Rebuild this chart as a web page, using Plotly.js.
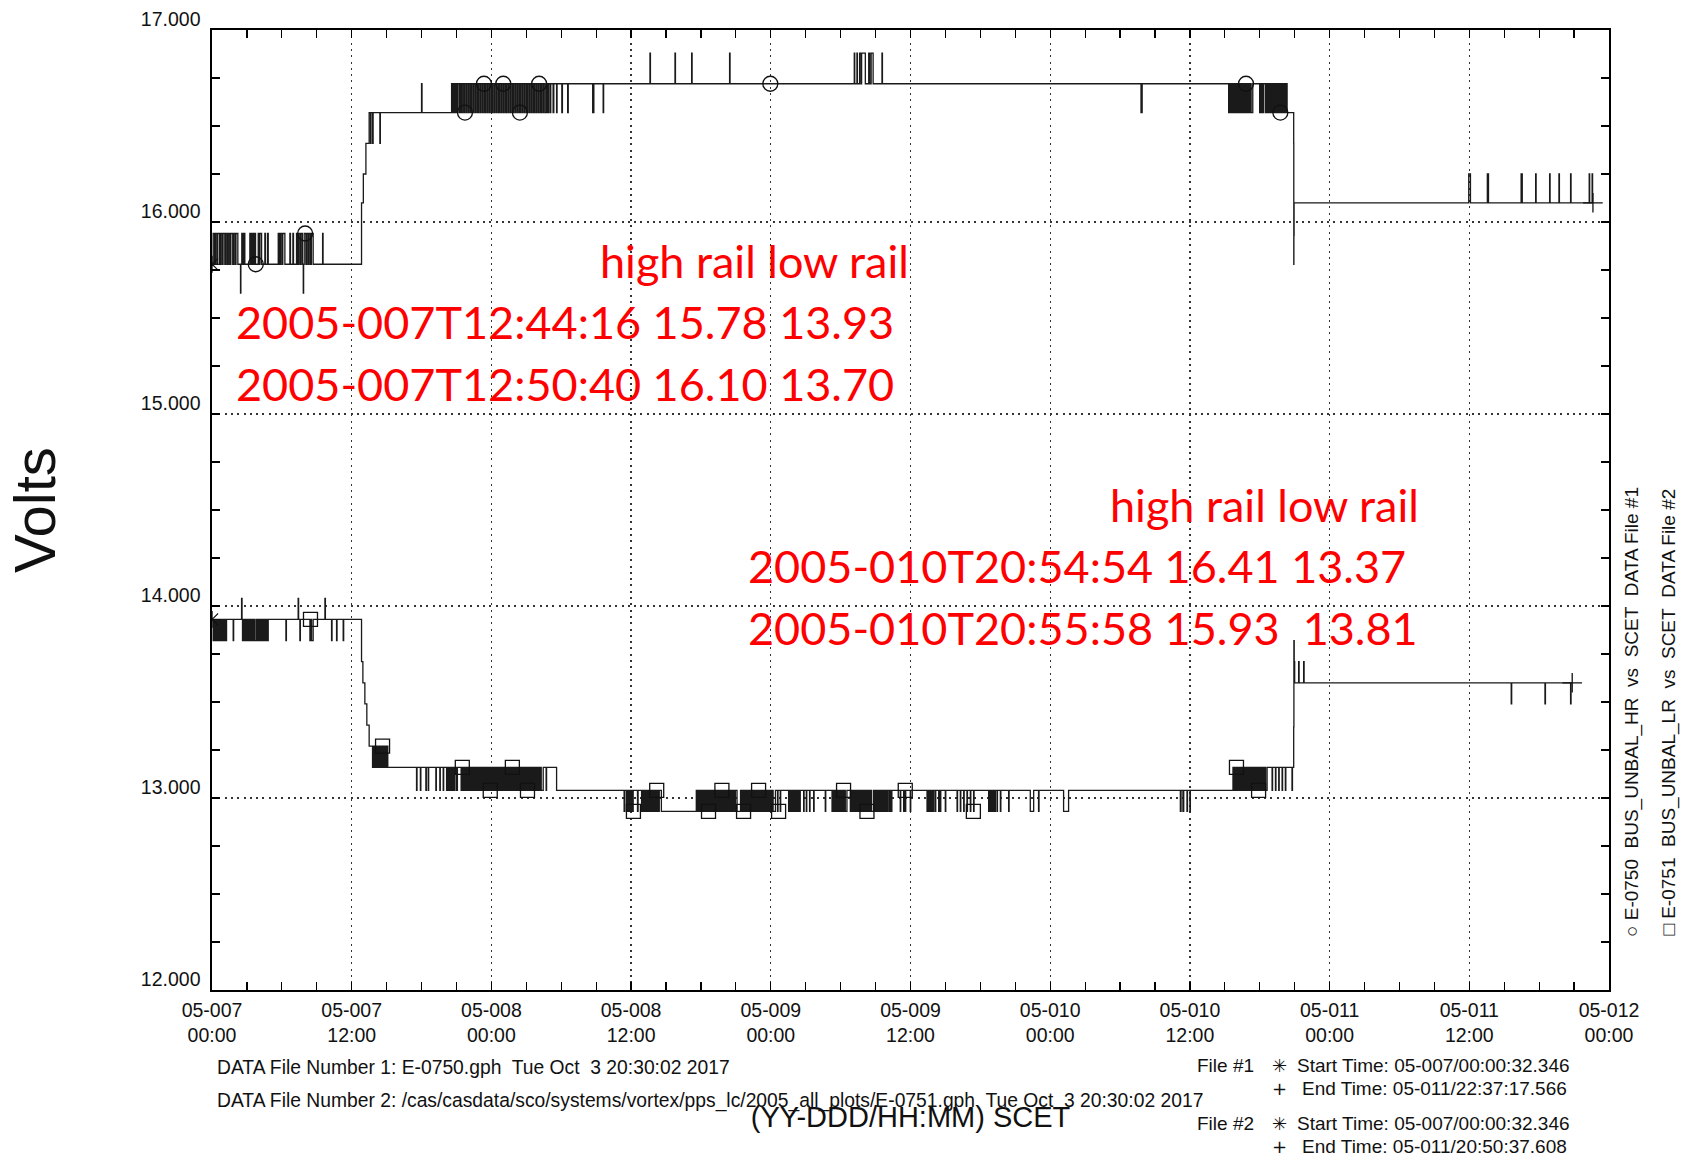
<!DOCTYPE html>
<html><head><meta charset="utf-8">
<script src="https://cdn.plot.ly/plotly-3.0.1.min.js"></script>
<style>html,body{margin:0;padding:0;background:#fff;}#chart{width:1682px;height:1156px;}</style>
</head><body><div id="chart"></div>
<script>
// ---- axes ----
const xTickHours = [0,12,24,36,48,60,72,84,96,108,120];
const xTickText = ['05-007<br>00:00','05-007<br>12:00','05-008<br>00:00','05-008<br>12:00','05-009<br>00:00','05-009<br>12:00','05-010<br>00:00','05-010<br>12:00','05-011<br>00:00','05-011<br>12:00','05-012<br>00:00'];
const yTickVolts = [12,13,14,15,16,17];

// ---- E-0750 BUS_UNBAL_HR (hours since 05-007 00:00, volts) ----
const hrPoints = [
[0.02,15.78],
[0.10,15.94],[0.22,15.78],[0.30,15.94],[0.42,15.78],[0.50,15.94],[0.66,15.78],[0.74,15.94],[0.86,15.78],[0.95,15.94],[1.10,15.78],[1.18,15.94],[1.30,15.78],[1.40,15.94],[1.52,15.78],[1.62,15.94],[1.78,15.78],[1.86,15.94],[1.98,15.78],[2.06,15.94],[2.22,15.78],
[2.45,15.63],[2.48,15.78],
[2.56,15.94],[2.66,15.78],[2.72,15.94],[2.82,15.78],
[3.25,15.94],[3.35,15.78],[3.45,15.94],[3.55,15.78],[3.64,15.94],[3.74,15.78],
[3.97,15.94],[4.05,15.78],[4.12,15.94],[4.26,15.78],
[4.54,15.94],[4.60,15.78],[4.78,15.94],[4.83,15.78],
[5.69,15.94],[5.80,15.78],[5.88,15.94],[6.00,15.78],[6.08,15.94],[6.26,15.78],
[6.69,15.94],[6.74,15.78],[6.95,15.94],[7.00,15.78],
[7.26,15.94],[7.36,15.78],[7.44,15.94],[7.56,15.78],[7.64,15.94],[7.76,15.78],
[7.84,15.63],[7.87,15.78],
[7.92,15.94],[8.06,15.78],[8.14,15.94],[8.26,15.78],[8.34,15.94],[8.46,15.78],[8.54,15.94],[8.69,15.78],
[9.50,15.94],[9.54,15.78],
[12.738,15.78],
[12.844,16.10],[13.00,16.25],[13.22,16.41],[13.50,16.57],[13.62,16.41],[13.66,16.57],[13.80,16.41],[13.84,16.57],[14.42,16.41],[14.46,16.57],
[18.00,16.72],[18.04,16.57],
[20.58,16.72],[20.66,16.57],[20.75,16.72],[20.85,16.57],[20.95,16.72],[21.05,16.57],[21.12,16.72],[21.25,16.57],[21.32,16.72],[21.42,16.57],[21.50,16.72],[21.62,16.57],[21.70,16.72],[21.82,16.57],[21.90,16.72],[22.02,16.57],[22.10,16.72],[22.22,16.57],[22.30,16.72],[22.42,16.57],[22.50,16.72],[22.62,16.57],[22.70,16.72],[22.82,16.57],[22.90,16.72],[23.02,16.57],[23.10,16.72],[23.22,16.57],[23.30,16.72],[23.42,16.57],[23.50,16.72],[23.62,16.57],[23.70,16.72],[23.82,16.57],[23.90,16.72],[24.02,16.57],[24.10,16.72],[24.22,16.57],[24.30,16.72],[24.42,16.57],[24.50,16.72],[24.62,16.57],[24.70,16.72],[24.82,16.57],[24.90,16.72],[25.02,16.57],[25.10,16.72],[25.22,16.57],[25.30,16.72],[25.42,16.57],[25.50,16.72],[25.62,16.57],[25.70,16.72],[25.82,16.57],[25.90,16.72],[26.02,16.57],[26.10,16.72],[26.22,16.57],[26.30,16.72],[26.42,16.57],[26.50,16.72],[26.62,16.57],[26.70,16.72],[26.82,16.57],[26.90,16.72],[27.02,16.57],[27.10,16.72],[27.22,16.57],[27.30,16.72],[27.42,16.57],[27.50,16.72],[27.62,16.57],[27.70,16.72],[27.82,16.57],[27.90,16.72],[28.02,16.57],[28.10,16.72],[28.22,16.57],[28.30,16.72],[28.42,16.57],[28.50,16.72],[28.62,16.57],[28.74,16.72],
[28.85,16.57],[28.92,16.72],[29.05,16.57],[29.10,16.72],[29.30,16.57],[29.36,16.72],[29.60,16.57],[29.64,16.72],[30.05,16.57],[30.10,16.72],[30.55,16.57],[30.60,16.72],
[32.70,16.57],[32.80,16.72],[33.60,16.57],[33.64,16.72],
[37.62,16.88],[37.66,16.72],[39.77,16.88],[39.81,16.72],[41.20,16.88],[41.24,16.72],[44.46,16.88],[44.50,16.72],
[55.17,16.88],[55.21,16.72],[55.40,16.88],[55.44,16.72],[55.63,16.88],[55.75,16.72],[55.80,16.88],[56.12,16.72],[56.41,16.88],[56.50,16.72],[56.62,16.88],[56.79,16.72],[57.55,16.88],[57.59,16.72],
[79.80,16.57],[79.90,16.72],
[87.33,16.57],[87.40,16.72],[87.50,16.57],[87.58,16.72],[87.66,16.57],[87.74,16.72],[87.82,16.57],[87.90,16.72],[87.98,16.57],[88.08,16.72],[88.14,16.57],[88.24,16.72],[88.30,16.57],[88.40,16.72],[88.46,16.57],[88.56,16.72],[88.62,16.57],[88.72,16.72],[88.78,16.57],[88.88,16.72],[88.94,16.57],[89.04,16.72],[89.10,16.57],[89.20,16.72],[89.26,16.57],[89.40,16.72],
[89.99,16.57],[90.05,16.72],[90.12,16.57],[90.18,16.72],[90.26,16.57],[90.32,16.72],[90.48,16.57],[90.58,16.72],[90.64,16.57],[90.74,16.72],[90.80,16.57],[90.90,16.72],[90.96,16.57],[91.06,16.72],[91.12,16.57],[91.22,16.72],[91.28,16.57],[91.38,16.72],[91.44,16.57],[91.54,16.72],[91.60,16.57],[91.70,16.72],[91.76,16.57],[91.86,16.72],[91.92,16.57],[92.02,16.72],[92.08,16.57],[92.18,16.72],[92.24,16.57],[92.28,16.72],[92.35,16.57],
[92.915,16.41],[92.925,15.78],[92.933,15.93],[92.95,16.10],
[107.95,16.25],[108.10,16.10],[109.55,16.25],[109.65,16.10],[112.45,16.25],[112.55,16.10],[113.70,16.25],[113.74,16.10],[114.90,16.25],[114.94,16.10],[115.70,16.25],[115.74,16.10],[116.70,16.25],[116.74,16.10],[118.30,16.25],[118.34,16.10],[118.55,16.25],[118.59,16.10],
[118.62,16.10]
];

// ---- E-0751 BUS_UNBAL_LR ----
const lrPoints = [
[0.02,13.93],
[0.10,13.82],[0.18,13.93],[0.26,13.82],[0.34,13.93],[0.42,13.82],[0.52,13.93],[0.60,13.82],[0.70,13.93],[0.78,13.82],[0.88,13.93],[0.96,13.82],[1.06,13.93],[1.14,13.82],[1.25,13.93],
[1.82,13.82],[1.86,13.93],
[2.54,14.04],[2.58,13.93],
[2.62,13.82],[2.72,13.93],[2.80,13.82],[2.90,13.93],[2.98,13.82],[3.08,13.93],[3.16,13.82],[3.26,13.93],[3.34,13.82],[3.44,13.93],[3.52,13.82],[3.62,13.93],[3.70,13.82],[3.83,13.93],
[3.88,13.82],[3.98,13.93],[4.06,13.82],[4.16,13.93],[4.24,13.82],[4.34,13.93],[4.42,13.82],[4.52,13.93],[4.60,13.82],[4.70,13.93],[4.76,13.82],[4.83,13.93],
[6.35,13.82],[6.39,13.93],
[7.40,14.04],[7.44,13.93],
[7.55,13.82],[7.59,13.93],
[8.41,13.82],[8.45,13.93],[8.55,13.82],[8.69,13.93],
[9.70,14.04],[9.74,13.93],
[10.27,13.82],[10.31,13.93],[10.70,13.82],[10.74,13.93],[11.27,13.82],[11.31,13.93],
[12.738,13.93],
[12.844,13.71],[12.96,13.60],[13.13,13.49],[13.30,13.38],[13.50,13.27],[13.79,13.16],[13.88,13.27],[13.96,13.16],[14.04,13.27],[14.12,13.16],[14.20,13.27],[14.28,13.16],[14.36,13.27],[14.44,13.16],[14.52,13.27],[14.60,13.16],[14.68,13.27],[14.76,13.16],[14.84,13.27],[14.92,13.16],[15.00,13.27],[15.10,13.16],
[17.57,13.04],[17.61,13.16],[17.90,13.04],[17.94,13.16],[18.37,13.04],[18.41,13.16],[18.57,13.04],[18.61,13.16],[19.23,13.04],[19.27,13.16],[19.57,13.04],[19.61,13.16],[19.86,13.04],[19.90,13.16],[20.15,13.04],[20.22,13.16],[20.30,13.04],[20.36,13.16],[20.45,13.04],[20.52,13.16],[20.62,13.04],[20.72,13.16],[20.80,13.04],[20.86,13.16],[21.00,13.04],[21.08,13.16],
[21.40,13.04],[21.48,13.16],[21.56,13.04],[21.64,13.16],[21.72,13.04],[21.80,13.16],[21.88,13.04],[21.96,13.16],[22.04,13.04],[22.12,13.16],[22.20,13.04],[22.28,13.16],[22.36,13.04],[22.44,13.16],[22.52,13.04],[22.60,13.16],[22.68,13.04],[22.76,13.16],[22.84,13.04],[22.92,13.16],[23.00,13.04],[23.08,13.16],[23.16,13.04],[23.24,13.16],[23.32,13.04],[23.40,13.16],[23.48,13.04],[23.56,13.16],[23.64,13.04],[23.72,13.16],[23.80,13.04],[23.88,13.16],[23.96,13.04],[24.04,13.16],[24.12,13.04],[24.20,13.16],[24.28,13.04],[24.36,13.16],[24.44,13.04],[24.52,13.16],[24.60,13.04],[24.68,13.16],[24.76,13.04],[24.84,13.16],[24.92,13.04],[25.00,13.16],[25.08,13.04],[25.16,13.16],[25.24,13.04],[25.32,13.16],[25.40,13.04],[25.48,13.16],[25.56,13.04],[25.64,13.16],[25.72,13.04],[25.80,13.16],[25.88,13.04],[25.96,13.16],[26.04,13.04],[26.12,13.16],[26.20,13.04],[26.28,13.16],[26.36,13.04],[26.44,13.16],[26.52,13.04],[26.60,13.16],[26.68,13.04],[26.76,13.16],[26.84,13.04],[26.92,13.16],[27.00,13.04],[27.08,13.16],[27.16,13.04],[27.24,13.16],[27.32,13.04],[27.40,13.16],[27.48,13.04],[27.56,13.16],[27.64,13.04],[27.72,13.16],[27.80,13.04],[27.88,13.16],[27.96,13.04],[28.04,13.16],[28.12,13.04],[28.20,13.16],[28.28,13.04],[28.45,13.16],
[28.70,13.04],[28.74,13.16],[29.60,13.04],
[35.40,12.93],[35.45,13.04],[35.60,12.93],[35.70,13.04],[35.78,12.93],[35.86,13.04],[35.94,12.93],[36.02,13.04],[36.10,12.93],[36.18,13.04],[36.55,12.93],[36.60,13.04],[36.90,12.93],[36.98,13.04],[37.06,12.93],[37.14,13.04],[37.22,12.93],[37.30,13.04],[37.38,12.93],[37.46,13.04],[37.54,12.93],[37.62,13.04],[37.70,12.93],[37.78,13.04],[37.86,12.93],[37.94,13.04],[38.02,12.93],[38.10,13.04],[38.18,12.93],[38.26,13.04],[38.34,12.93],[38.42,13.04],[38.60,12.93],
[41.60,13.04],[41.68,12.93],[41.76,13.04],[41.84,12.93],[41.92,13.04],[42.00,12.93],[42.08,13.04],[42.16,12.93],[42.24,13.04],[42.32,12.93],[42.40,13.04],[42.48,12.93],[42.56,13.04],[42.64,12.93],[42.72,13.04],[42.80,12.93],[42.88,13.04],[42.96,12.93],[43.04,13.04],[43.12,12.93],[43.20,13.04],[43.28,12.93],[43.36,13.04],[43.44,12.93],[43.52,13.04],[43.60,12.93],[43.68,13.04],[43.76,12.93],[43.84,13.04],[43.92,12.93],[44.00,13.04],[44.08,12.93],[44.16,13.04],[44.24,12.93],[44.32,13.04],[44.40,12.93],[44.48,13.04],[44.56,12.93],[44.64,13.04],[44.72,12.93],[44.80,13.04],[44.88,12.93],[44.96,13.04],[45.10,12.93],
[45.40,13.04],[45.48,12.93],[45.56,13.04],[45.64,12.93],[45.72,13.04],[45.80,12.93],[45.88,13.04],[45.96,12.93],[46.04,13.04],[46.12,12.93],[46.20,13.04],[46.28,12.93],[46.36,13.04],[46.44,12.93],[46.52,13.04],[46.60,12.93],[46.68,13.04],[46.76,12.93],[46.84,13.04],[46.92,12.93],[47.00,13.04],[47.08,12.93],[47.16,13.04],[47.24,12.93],[47.32,13.04],[47.40,12.93],[47.48,13.04],[47.56,12.93],[47.64,13.04],[47.72,12.93],[47.80,13.04],[47.88,12.93],[47.96,13.04],[48.04,12.93],[48.12,13.04],[48.20,12.93],[48.40,13.04],
[48.58,12.93],[48.62,13.04],[48.81,12.93],[48.85,13.04],
[49.53,12.93],[49.60,13.04],[49.68,12.93],[49.76,13.04],[49.84,12.93],[49.92,13.04],[50.00,12.93],[50.08,13.04],[50.16,12.93],[50.24,13.04],[50.34,12.93],[50.40,13.04],[50.46,12.93],[50.53,13.04],
[50.82,12.93],[50.86,13.04],[51.05,12.93],[51.09,13.04],[51.33,12.93],[51.37,13.04],[51.68,12.93],[51.72,13.04],[52.68,12.93],[52.72,13.04],
[53.26,12.93],[53.34,13.04],[53.42,12.93],[53.50,13.04],[53.58,12.93],[53.66,13.04],[53.74,12.93],[53.82,13.04],[53.90,12.93],[53.98,13.04],[54.06,12.93],[54.14,13.04],[54.25,12.93],[54.33,13.04],[54.40,12.93],[54.54,13.04],
[54.83,12.93],[54.90,13.04],[55.00,12.93],[55.08,13.04],[55.18,12.93],[55.26,13.04],[55.36,12.93],[55.44,13.04],[55.54,12.93],[55.62,13.04],[55.68,12.93],[55.76,13.04],[55.82,12.93],[55.90,13.04],[55.96,12.93],[56.04,13.04],[56.10,12.93],[56.18,13.04],[56.24,12.93],[56.32,13.04],[56.38,12.93],[56.46,13.04],[56.52,12.93],[56.60,13.04],[56.66,12.93],[56.83,13.04],
[56.92,12.93],[57.00,13.04],[57.10,12.93],[57.18,13.04],[57.28,12.93],[57.36,13.04],[57.46,12.93],[57.54,13.04],[57.64,12.93],[57.72,13.04],[57.82,12.93],[57.90,13.04],[58.00,12.93],[58.08,13.04],[58.20,12.93],[58.28,13.04],[58.34,12.93],[58.40,13.04],
[59.12,12.93],[59.16,13.04],[59.41,12.93],[59.45,13.04],[59.55,12.93],[59.59,13.04],[59.98,12.93],[60.02,13.04],
[61.42,12.93],[61.50,13.04],[61.58,12.93],[61.66,13.04],[61.74,12.93],[61.82,13.04],[61.90,12.93],[62.00,13.04],[62.13,12.93],[62.17,13.04],[62.42,12.93],[62.46,13.04],[62.56,12.93],[62.60,13.04],[62.99,12.93],[63.03,13.04],
[64.00,12.93],[64.04,13.04],[64.28,12.93],[64.32,13.04],[64.57,12.93],[64.61,13.04],[64.85,12.93],[64.89,13.04],[65.14,12.93],[65.18,13.04],[65.42,12.93],[65.46,13.04],
[66.71,12.93],[66.80,13.04],[66.90,12.93],[67.00,13.04],[67.10,12.93],[67.20,13.04],[67.24,12.93],[67.29,13.04],[67.43,12.93],[67.47,13.04],[67.72,12.93],[67.76,13.04],[68.43,12.93],[68.47,13.04],
[70.29,12.93],[70.58,13.04],[71.00,12.93],[71.04,13.04],[73.15,12.93],[73.58,13.04],
[83.18,12.93],[83.24,13.04],[83.40,12.93],[83.47,13.04],[83.75,12.93],[83.79,13.04],[84.00,12.93],[84.04,13.04],
[87.70,13.16],[87.78,13.04],[87.86,13.16],[87.94,13.04],[88.02,13.16],[88.10,13.04],[88.18,13.16],[88.26,13.04],[88.34,13.16],[88.42,13.04],[88.50,13.16],[88.58,13.04],[88.66,13.16],[88.74,13.04],[88.82,13.16],[88.90,13.04],[88.98,13.16],[89.06,13.04],[89.14,13.16],[89.22,13.04],[89.30,13.16],[89.38,13.04],[89.46,13.16],[89.54,13.04],[89.62,13.16],[89.70,13.04],[89.78,13.16],[89.86,13.04],[89.94,13.16],[90.02,13.04],[90.10,13.16],[90.18,13.04],[90.26,13.16],[90.34,13.04],[90.42,13.16],[90.50,13.04],[90.63,13.16],
[91.06,13.04],[91.10,13.16],[91.35,13.04],[91.39,13.16],[91.63,13.04],[91.67,13.16],[91.92,13.04],[91.96,13.16],[92.20,13.04],[92.24,13.16],[92.77,13.04],[92.81,13.16],
[92.915,13.37],[92.933,13.82],[92.96,13.71],[93.00,13.60],[93.34,13.71],[93.38,13.60],[93.77,13.71],[93.81,13.60],
[111.60,13.49],[111.64,13.60],[114.50,13.49],[114.54,13.60],[116.70,13.49],[116.74,13.60],
[116.84,13.60]
];

// sparse plot symbols drawn on the traces
const hrCircles = [[3.76,15.78],[8.00,15.94],[21.73,16.57],[23.36,16.72],[25.02,16.72],[26.45,16.57],[28.10,16.72],[47.96,16.72],[88.82,16.72],[91.77,16.57]];
const lrSquares = [[8.46,13.93],[14.65,13.27],[21.50,13.16],[23.90,13.04],[25.80,13.16],[27.10,13.04],[36.20,12.93],[38.20,13.04],[42.65,12.93],[43.80,13.04],[45.66,12.93],[46.95,13.04],[48.67,12.93],[54.25,13.04],[56.26,12.93],[59.55,13.04],[65.40,12.93],[88.00,13.16],[89.90,13.04]];
const startPoints = [[0.01,15.78],[0.01,13.93]];
const endPoints = [[118.62,16.10],[116.84,13.60]];

// ---- texts ----
const redNotes = ['high rail low rail','2005-007T12:44:16 15.78 13.93','2005-007T12:50:40 16.10 13.70','high rail low rail','2005-010T20:54:54 16.41 13.37','2005-010T20:55:58 15.93\u00a0 13.81'];
const fileLines = ['DATA File Number 1: E-0750.gph\u00a0 Tue Oct\u00a0 3 20:30:02 2017','DATA File Number 2: /cas/casdata/sco/systems/vortex/pps_lc/2005_all_plots/E-0751.gph\u00a0 Tue Oct\u00a0 3 20:30:02 2017'];
const fileLabels = ['File #1','File #2'];
const timeLines = ['Start Time: 05-007/00:00:32.346','End Time: 05-011/22:37:17.566','Start Time: 05-007/00:00:32.346','End Time: 05-011/20:50:37.608'];
const seriesNames = ['\u25CB E-0750\u00a0 BUS_UNBAL_HR\u00a0 vs\u00a0 SCET\u00a0 DATA File #1','\u25A1 E-0751\u00a0 BUS_UNBAL_LR\u00a0 vs\u00a0 SCET\u00a0 DATA File #2'];

// ---- layout geometry (pixels) ----
const L = 212, R = 73.4, T = 29.5, B = 166, W = 1682 - L - R, H = 1156 - T - B;
const px = x => (x - L) / W;
const py = y => (T + H - y) / H;
const FONT = 'Liberation Sans, Arial, Helvetica, sans-serif';

const col = (a, i) => a.map(p => p[i]);
const lineStyle = {color:'#1a1a1a', width:1.3, shape:'hv'};

const traces = [
  {x:col(hrPoints,0), y:col(hrPoints,1), type:'scatter', mode:'lines', line:lineStyle, name:'E-0750 BUS_UNBAL_HR'},
  {x:col(lrPoints,0), y:col(lrPoints,1), type:'scatter', mode:'lines', line:lineStyle, name:'E-0751 BUS_UNBAL_LR'},
  {x:col(hrCircles,0), y:col(hrCircles,1), type:'scatter', mode:'markers', marker:{symbol:'circle-open', size:15, color:'#111', line:{width:1.3, color:'#111'}}},
  {x:col(lrSquares,0), y:col(lrSquares,1), type:'scatter', mode:'markers', marker:{symbol:'square-open', size:14, color:'#111', line:{width:1.3, color:'#111'}}},
  {x:col(startPoints,0), y:col(startPoints,1), type:'scatter', mode:'markers', marker:{symbol:'asterisk-open', size:14, color:'#111', line:{width:1.1, color:'#111'}}},
  {x:col(endPoints,0), y:col(endPoints,1), type:'scatter', mode:'markers', marker:{symbol:'cross-thin-open', size:14, color:'#111', line:{width:1.3, color:'#111'}}}
];

const ann = [];
const redPos = [[597.5,261],[234,322],[234,383.5],[1108,505],[745.5,565.3],[745.5,627.5]];
redNotes.forEach((t,i) => ann.push({text:t, xref:'paper', yref:'paper', x:px(redPos[i][0]), y:py(redPos[i][1]), xanchor:'left', yanchor:'middle', showarrow:false, font:{family:'Lato, Open Sans, sans-serif', size:45, color:'#ff0000'}}));
const filePos = [1067.4, 1100.6];
fileLines.forEach((t,i) => ann.push({text:t, xref:'paper', yref:'paper', x:px(214.5), y:py(filePos[i]), xanchor:'left', yanchor:'middle', showarrow:false, font:{family:FONT, size:19.3, color:'#111'}}));
const labelPos = [1065.2, 1123.1];
fileLabels.forEach((t,i) => ann.push({text:t, xref:'paper', yref:'paper', x:px(1256), y:py(labelPos[i]), xanchor:'right', yanchor:'middle', showarrow:false, font:{family:FONT, size:19, color:'#111'}}));
const timePos = [1065.2, 1088.8, 1123.1, 1146.7];
const timeSym = ['\u2733','+','\u2733','+'];
timeLines.forEach((t,i) => {
  ann.push({text:timeSym[i], xref:'paper', yref:'paper', x:px(1279), y:py(timePos[i]), xanchor:'center', yanchor:'middle', showarrow:false, font:{family:'DejaVu Sans, sans-serif', size:18, color:'#111'}});
  ann.push({text:t, xref:'paper', yref:'paper', x:px(i % 2 ? 1300 : 1295), y:py(timePos[i]), xanchor:'left', yanchor:'middle', showarrow:false, font:{family:FONT, size:19, color:'#111'}});
});
const namePos = [1631, 1668.5];
seriesNames.forEach((t,i) => ann.push({text:t, xref:'paper', yref:'paper', x:px(namePos[i]), y:py(711.5), xanchor:'center', yanchor:'middle', textangle:-90, showarrow:false, font:{family:FONT, size:19, color:'#111'}}));

const axisCommon = {
  showline:true, linecolor:'#000', linewidth:1.6, mirror:'ticks',
  ticks:'inside', ticklen:8, tickwidth:1.2, tickcolor:'#000',
  showgrid:true, gridcolor:'#333', gridwidth:1.3, griddash:'2px,4.3px',
  zeroline:false
};

const layout = {
  width:1682, height:1156, autosize:false,
  margin:{l:L, r:R, t:T, b:B, pad:0},
  paper_bgcolor:'#fff', plot_bgcolor:'#fff', showlegend:false,
  font:{family:FONT, color:'#111'},
  xaxis:Object.assign({}, axisCommon, {
    range:[0,120], tickmode:'array', tickvals:xTickHours, ticktext:xTickText,
    tickfont:{family:FONT, size:19.5, color:'#111'}, ticklabelstandoff:2,
    minor:{tickmode:'linear', tick0:0, dtick:3, ticks:'inside', ticklen:8, tickwidth:1.2, tickcolor:'#000', showgrid:false},
    title:{text:'(YY-DDD/HH:MM) SCET', font:{family:FONT, size:29, color:'#111'}, standoff:61}
  }),
  yaxis:Object.assign({}, axisCommon, {
    range:[12,17], tickmode:'array', tickvals:yTickVolts, tickformat:'.3f',
    tickfont:{family:FONT, size:19.5, color:'#111'},
    ticklabelshift:-11, ticklabelstandoff:6,
    minor:{tickmode:'linear', tick0:12, dtick:0.25, ticks:'inside', ticklen:8, tickwidth:1.2, tickcolor:'#000', showgrid:false},
    title:{text:'Volts', font:{family:FONT, size:58, color:'#111'}, standoff:66}
  }),
  annotations:ann
};

Plotly.newPlot('chart', traces, layout, {displayModeBar:false, staticPlot:true});
</script></body></html>
